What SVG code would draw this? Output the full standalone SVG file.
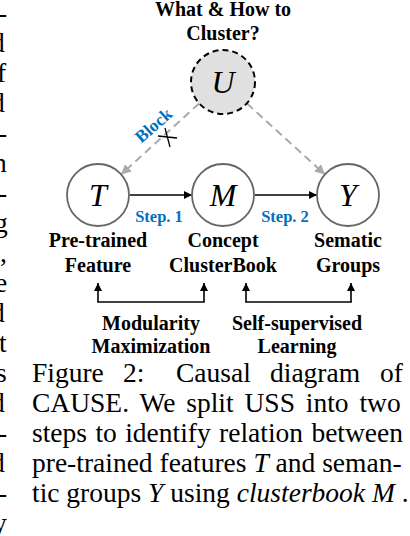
<svg xmlns="http://www.w3.org/2000/svg" width="410" height="536" viewBox="0 0 410 536">
<style>
  .lbl{font-family:"Liberation Serif","Times New Roman",serif;font-weight:bold;font-size:20px;fill:#000;text-anchor:middle}
  .var{font-family:"Liberation Serif","Times New Roman",serif;font-style:italic;font-size:32px;fill:#000;text-anchor:middle}
  .blue{font-family:"Liberation Serif","Times New Roman",serif;font-weight:bold;font-size:16.5px;fill:#0070C0;text-anchor:middle}
  .node{fill:#fff;stroke:#666;stroke-width:1.8}
  .cap{font-family:"Liberation Serif","Times New Roman",serif;font-size:27.5px;fill:#000}
  .frag{font-family:"Liberation Serif","Times New Roman",serif;font-size:27.5px;fill:#000}
  .gdash{fill:none;stroke:#aaa;stroke-width:2;stroke-dasharray:8 5}
  .solid{fill:none;stroke:#000;stroke-width:1.6}
</style>
<defs>
  <marker id="ag" viewBox="0 0 10 10" refX="10" refY="5" markerWidth="10" markerHeight="10" markerUnits="userSpaceOnUse" orient="auto">
    <path d="M0,0 L10,5 L0,10 z" fill="#aaa"/>
  </marker>
  <marker id="ab" viewBox="0 0 10 10" refX="10" refY="5" markerWidth="10" markerHeight="8" markerUnits="userSpaceOnUse" orient="auto">
    <path d="M0,0 L10,5 L0,10 z" fill="#000"/>
  </marker>
</defs>

<g id="fragments" class="frag">
  <text x="-2" y="22">-</text>
  <text x="-9" y="52">d</text>
  <text x="-3" y="82">f</text>
  <text x="-9" y="112">d</text>
  <text x="-2" y="142">-</text>
  <text x="-7" y="172">n</text>
  <text x="-2" y="202">-</text>
  <text x="-6" y="232">g</text>
  <text x="0" y="262">,</text>
  <text x="-5" y="292">e</text>
  <text x="-9" y="322">d</text>
  <text x="-1" y="352">t</text>
  <text x="-4" y="382">s</text>
  <text x="-9" y="412">d</text>
  <text x="-2" y="442">-</text>
  <text x="-9" y="472">d</text>
  <text x="-2" y="502">-</text>
  <text x="-7" y="532">y</text>
</g>

<g id="title">
  <text class="lbl" x="223" y="16">What &amp; How to</text>
  <text class="lbl" x="223" y="40">Cluster?</text>
</g>

<g id="connectors">
  <line class="gdash" x1="199" y1="103.5" x2="121" y2="174.5" marker-end="url(#ag)"/>
  <line class="gdash" x1="247" y1="103.5" x2="325" y2="174.5" marker-end="url(#ag)"/>
  <line class="solid" x1="130" y1="195" x2="192" y2="195" marker-end="url(#ab)"/>
  <line class="solid" x1="255" y1="195" x2="317" y2="195" marker-end="url(#ab)"/>
  <text class="blue" x="159" y="222">Step. 1</text>
  <text class="blue" x="285" y="222">Step. 2</text>
  <text class="blue" style="font-size:17.5px" transform="translate(154,126) rotate(-41)" x="0" y="5">Block</text>
  <path d="M158,136 L177,138 M165,128 L170,147" stroke="#000" stroke-width="1.3" fill="none"/>
  <line class="solid" x1="98" y1="302" x2="98" y2="283" marker-end="url(#ab)"/>
  <line class="solid" x1="204" y1="302" x2="204" y2="283" marker-end="url(#ab)"/>
  <line class="solid" x1="246" y1="302" x2="246" y2="283" marker-end="url(#ab)"/>
  <line class="solid" x1="351" y1="302" x2="351" y2="283" marker-end="url(#ab)"/>
  <line class="solid" x1="97.2" y1="302" x2="204.8" y2="302"/>
  <line class="solid" x1="245.2" y1="302" x2="351.8" y2="302"/>
</g>

<g id="node-U">
  <circle cx="223" cy="82" r="32" fill="#e0e0e0" stroke="#000" stroke-width="2" stroke-dasharray="6 4"/>
  <text class="var" x="223" y="93">U</text>
</g>
<g id="node-T">
  <circle class="node" cx="98" cy="195" r="31"/>
  <text class="var" x="98" y="206">T</text>
  <text class="lbl" x="98" y="247">Pre-trained</text>
  <text class="lbl" x="98" y="272">Feature</text>
</g>
<g id="node-M">
  <circle class="node" cx="223" cy="195" r="31"/>
  <text class="var" x="223" y="206">M</text>
  <text class="lbl" x="223" y="247">Concept</text>
  <text class="lbl" x="223" y="272">ClusterBook</text>
</g>
<g id="node-Y">
  <circle class="node" cx="348" cy="195" r="31"/>
  <text class="var" x="348" y="206">Y</text>
  <text class="lbl" x="348" y="247">Sematic</text>
  <text class="lbl" x="348" y="272">Groups</text>
</g>

<g id="methods">
  <text class="lbl" x="151" y="330">Modularity</text>
  <text class="lbl" x="151" y="353">Maximization</text>
  <text class="lbl" x="297" y="330">Self-supervised</text>
  <text class="lbl" x="297" y="353">Learning</text>
</g>

<g id="caption" class="cap">
  <text y="382"><tspan x="32">Figure</tspan><tspan x="123">2:</tspan><tspan x="176">Causal</tspan><tspan x="270">diagram</tspan><tspan x="380">of</tspan></text>
  <text x="32" y="412" word-spacing="4">CAUSE. We split USS into two</text>
  <text x="32" y="442" word-spacing="1.5">steps to identify relation between</text>
  <text x="32" y="472">pre-trained features <tspan font-style="italic">T</tspan> and seman-</text>
  <text x="32" y="502">tic groups <tspan font-style="italic">Y</tspan> using <tspan font-style="italic">clusterbook M</tspan> .</text>
</g>
</svg>
